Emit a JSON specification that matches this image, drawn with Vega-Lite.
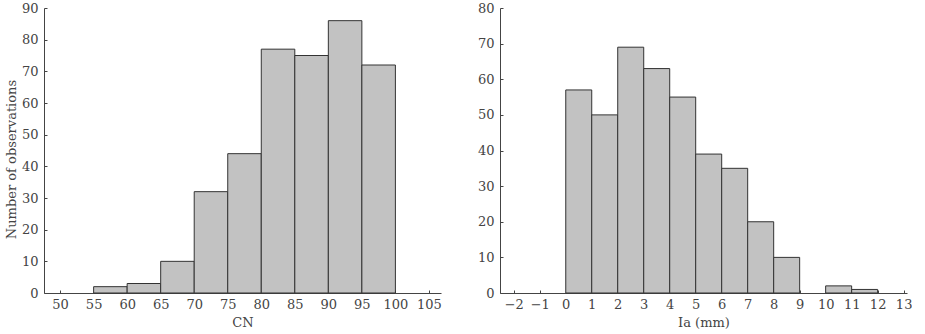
{
  "$schema": "https://vega.github.io/schema/vega-lite/v6.json",
  "padding": {"left": 5, "top": 2, "right": 0, "bottom": 0},
  "spacing": 35,
  "datasets": {
    "cn": [
      {"bin_start": 55, "bin_end": 60, "count": 2},
      {"bin_start": 60, "bin_end": 65, "count": 3},
      {"bin_start": 65, "bin_end": 70, "count": 10},
      {"bin_start": 70, "bin_end": 75, "count": 32},
      {"bin_start": 75, "bin_end": 80, "count": 44},
      {"bin_start": 80, "bin_end": 85, "count": 77},
      {"bin_start": 85, "bin_end": 90, "count": 75},
      {"bin_start": 90, "bin_end": 95, "count": 86},
      {"bin_start": 95, "bin_end": 100, "count": 72}
    ],
    "ia": [
      {"bin_start": 0, "bin_end": 1, "count": 57},
      {"bin_start": 1, "bin_end": 2, "count": 50},
      {"bin_start": 2, "bin_end": 3, "count": 69},
      {"bin_start": 3, "bin_end": 4, "count": 63},
      {"bin_start": 4, "bin_end": 5, "count": 55},
      {"bin_start": 5, "bin_end": 6, "count": 39},
      {"bin_start": 6, "bin_end": 7, "count": 35},
      {"bin_start": 7, "bin_end": 8, "count": 20},
      {"bin_start": 8, "bin_end": 9, "count": 10},
      {"bin_start": 10, "bin_end": 11, "count": 2},
      {"bin_start": 11, "bin_end": 12, "count": 1}
    ]
  },
  "hconcat": [
    {
      "width": 397,
      "height": 285,
      "data": {"name": "cn"},
      "mark": {"type": "rect", "fill": "#c2c2c2", "stroke": "#333333", "strokeWidth": 1},
      "encoding": {
        "x": {
          "field": "bin_start", "type": "quantitative", "title": "CN",
          "scale": {"domain": [47.6, 106.8], "nice": false, "zero": false},
          "axis": {"values": [50, 55, 60, 65, 70, 75, 80, 85, 90, 95, 100, 105]}
        },
        "x2": {"field": "bin_end"},
        "y": {
          "field": "count", "type": "quantitative", "title": "Number of observations",
          "scale": {"domain": [0, 90], "nice": false},
          "axis": {"values": [0, 10, 20, 30, 40, 50, 60, 70, 80, 90], "titlePadding": 3, "titleY": 151}
        }
      }
    },
    {
      "width": 407,
      "height": 285,
      "data": {"name": "ia"},
      "mark": {"type": "rect", "fill": "#c2c2c2", "stroke": "#333333", "strokeWidth": 1},
      "encoding": {
        "x": {
          "field": "bin_start", "type": "quantitative", "title": "Ia (mm)",
          "scale": {"domain": [-2.53, 13.13], "nice": false, "zero": false},
          "axis": {"values": [-2, -1, 0, 1, 2, 3, 4, 5, 6, 7, 8, 9, 10, 11, 12, 13], "labelExpr": "replace(datum.label, '-', '\u2212')"}
        },
        "x2": {"field": "bin_end"},
        "y": {
          "field": "count", "type": "quantitative", "title": null,
          "scale": {"domain": [0, 80], "nice": false},
          "axis": {"values": [0, 10, 20, 30, 40, 50, 60, 70, 80]}
        }
      }
    }
  ],
  "config": {
    "view": {"stroke": null},
    "font": "DejaVu Serif",
    "axis": {
      "grid": false,
      "domainColor": "#444444",
      "tickColor": "#444444",
      "tickSize": -3,
      "labelFont": "DejaVu Serif",
      "labelFontSize": 13,
      "labelColor": "#444444",
      "titleFont": "DejaVu Serif",
      "titleFontSize": 13,
      "titleFontWeight": "normal",
      "titleColor": "#444444",
      "labelFlush": false,
      "labelOverlap": false
    },
    "axisX": {"labelPadding": 8, "titlePadding": 5},
    "axisY": {"labelPadding": 9}
  }
}
